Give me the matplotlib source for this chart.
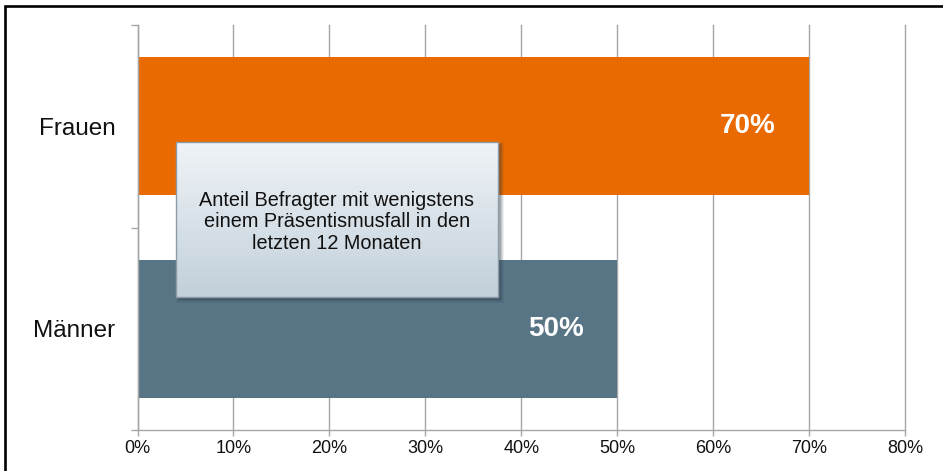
import numpy as np
import matplotlib
matplotlib.use("Agg")
import matplotlib.pyplot as plt
from matplotlib.patches import Rectangle
from matplotlib.ticker import FixedLocator, PercentFormatter

plt.rcParams['font.family'] = ['Liberation Sans', 'DejaVu Sans']

# Data
categories = ["Männer", "Frauen"]
values = [50, 70]
bar_colors = ["#587585", "#E96A00"]
x_ticks = [0, 10, 20, 30, 40, 50, 60, 70, 80]
box_text = "Anteil Befragter mit wenigstens\neinem Präsentismusfall in den\nletzten 12 Monaten"

W, H = 943, 471
fig = plt.figure(figsize=(W / 100, H / 100), dpi=100)
ax = fig.add_axes([137.5 / W, 41 / H, (905 - 137.5) / W, (430 - 25) / H])

ypos = np.arange(len(categories))
ax.barh(ypos, values, height=0.68, color=bar_colors, zorder=2)

ax.set_xlim(0, 80)
ax.set_ylim(-0.5, len(categories) - 0.5)
ax.xaxis.set_major_locator(FixedLocator(x_ticks))
ax.xaxis.set_major_formatter(PercentFormatter(decimals=0))
ax.set_yticks(ypos)
ax.set_yticklabels(categories)
ax.yaxis.set_minor_locator(FixedLocator(np.arange(-0.5, len(categories), 1.0)))

grid_c = "#A6A6A6"
ax.grid(axis="x", color=grid_c, linewidth=1.0, zorder=0)
for gl in ax.get_xgridlines():
    gl.set_clip_on(False)
ax.set_axisbelow(True)
for s in ["top", "right"]:
    ax.spines[s].set_visible(False)
for s in ["left", "bottom"]:
    ax.spines[s].set_color(grid_c)
    ax.spines[s].set_linewidth(1.0)

ax.tick_params(axis="x", direction="out", length=4, width=1.0, color=grid_c,
               labelsize=13, pad=3, labelcolor="#111111")
ax.tick_params(axis="y", which="major", length=0, labelsize=17.5, pad=16,
               labelcolor="#111111")
ax.tick_params(axis="y", which="minor", direction="out", length=5, width=1.0,
               color=grid_c)

# Value labels inside the bars
for y, v in zip(ypos, values):
    ax.text(v - 6.4, y, f"{v}%", ha="center", va="center", color="white",
            fontsize=20, fontweight="bold", zorder=3)

# Annotation box with soft shadow and vertical gradient
bx0, bx1 = 4.0, 37.55
by0, by1 = 0.157, 0.922
dx, dy = 0.3, -0.016
for i, a in enumerate([0.08, 0.10, 0.14, 0.20]):
    grow = (3 - i) * 0.1
    growy = (3 - i) * 0.005
    ax.add_patch(Rectangle((bx0 + dx - grow, by0 + dy - growy),
                           bx1 - bx0 + 2 * grow, by1 - by0 + 2 * growy,
                           facecolor="#2a3a46", edgecolor="none", alpha=a,
                           zorder=4))
grad = np.linspace(0, 1, 256)[:, None]
top_c = np.array([0.94, 0.955, 0.97])
bot_c = np.array([0.76, 0.815, 0.855])
img = top_c[None, None, :] * (1 - grad[..., None]) + bot_c[None, None, :] * grad[..., None]
img = np.repeat(img, 2, axis=1)
ax.imshow(img, extent=(bx0, bx1, by0, by1), origin="upper", aspect="auto",
          zorder=5, interpolation="bilinear")
ax.add_patch(Rectangle((bx0, by0), bx1 - bx0, by1 - by0, facecolor="none",
                       edgecolor="#8D9BA6", linewidth=1.0, zorder=6))
ax.text((bx0 + bx1) / 2, (by0 + by1) / 2 - 0.012, box_text, ha="center",
        va="center", fontsize=14.3, color="#111111", linespacing=1.15,
        zorder=7)
ax.set_xlim(0, 80)
ax.set_ylim(-0.5, len(categories) - 0.5)

# Outer frame
fig.patches.append(Rectangle((5 / W, -0.1), 1.2, 1.1 - 6 / H, transform=fig.transFigure,
                             facecolor="none", edgecolor="black",
                             linewidth=1.9, zorder=10))

fig.savefig("out.png", dpi=100)
